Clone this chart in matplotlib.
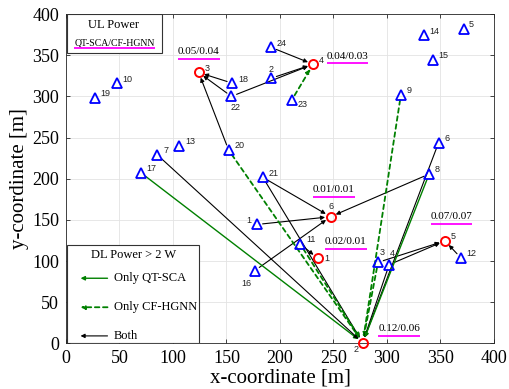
#!/usr/bin/env python
# -*- coding:utf-8 -*-

import matplotlib
matplotlib.use('Agg')
import matplotlib.pyplot as plt
from matplotlib.patches import Rectangle


# user positions (blue triangles), id -> (x, y) in metres
USER_IDS = list(range(1, 25))
USER_X = [178.6, 191.7, 291.6, 302.0, 371.6, 348.2, 85.5, 339.4, 313.0, 47.8, 219.0, 369.0,
          106.0, 334.7, 343.0, 176.4, 70.3, 155.5, 27.0, 152.0, 184.0, 154.6, 211.0, 191.7]
USER_Y = [144.5, 322.0, 98.5, 95.7, 381.7, 243.7, 228.8, 205.7, 302.0, 316.0, 120.6, 104.0,
          240.0, 374.0, 344.0, 88.4, 207.0, 316.0, 298.0, 234.8, 201.7, 300.0, 295.5, 359.5]

# access points (red circles)
AP_IDS = [1, 2, 3, 4, 5, 6]
AP_X = [235.4, 277.3, 124.0, 231.0, 354.2, 247.3]
AP_Y = [103.4, 1.0, 329.0, 339.0, 124.6, 153.9]

# UL power per AP, QT-SCA/CF-HGNN
UL_POWER = ['0.02/0.01', '0.12/0.06', '0.05/0.04', '0.04/0.03', '0.07/0.07', '0.01/0.01']

# (user, ap, kind)  kind: 'both', 'qt' (only QT-SCA), 'cf' (only CF-HGNN)
LINKS = [
    (18, 3, 'both'), (22, 3, 'both'), (20, 3, 'both'),
    (24, 4, 'both'), (2, 4, 'both'), (22, 4, 'both'), (23, 4, 'cf'),
    (21, 6, 'both'), (1, 6, 'both'), (8, 6, 'both'), (16, 6, 'both'),
    (11, 1, 'both'),
    (12, 5, 'both'), (3, 5, 'both'), (4, 5, 'both'),
    (17, 2, 'qt'), (7, 2, 'both'), (20, 2, 'cf'), (21, 2, 'both'), (11, 2, 'cf'),
    (9, 2, 'cf'), (3, 2, 'cf'), (4, 2, 'both'), (6, 2, 'both'), (8, 2, 'qt'),
]

GREEN = '#008000'
STYLES = {
    'both': dict(color='black', lw=0.8, linestyle='-'),
    'qt': dict(color=GREEN, lw=1.0, linestyle='-'),
    'cf': dict(color=GREEN, lw=1.3, linestyle=(0, (2.5, 2))),
}

# label offsets in points, default is upper right
USER_LABEL_OFF = {22: (3, -8, 'center'), 23: (4, -3, 'left'), 2: (0, 6, 'center'),
                  1: (-4, 3, 'right'), 16: (-6, -9, 'center'), 3: (3, 7, 'center'),
                  4: (2, 8, 'center')}
AP_LABEL_OFF = {6: (0, 7, 'center'), 1: (5, 0, 'left'), 2: (-5, -5, 'center')}
# text offset of the UL power label relative to its AP (data units)
UL_TEXT_OFF = {1: (26, 20), 2: (34, 17), 3: (0, 25), 4: (32, 10), 5: (6, 29), 6: (3, 33)}

SERIF = 'Liberation Serif'
SANS = 'Liberation Sans'


def draw_arrow(ax, start, end, kind, **kw):
    st = STYLES[kind]
    ax.annotate('', xy=end, xytext=start,
                arrowprops=dict(arrowstyle='-|>', color=st['color'], lw=st['lw'],
                                linestyle=st['linestyle'], mutation_scale=6,
                                shrinkA=kw.get('shrinkA', 4), shrinkB=kw.get('shrinkB', 4)),
                **{k: v for k, v in kw.items() if k not in ('shrinkA', 'shrinkB')})


def underlined(ax, x, y, s, size=8, width=19, transform=None):
    tr = transform if transform is not None else ax.transData
    ax.text(x, y, s, fontsize=size, family=SERIF, ha='center', va='center', transform=tr)


def main():
    fig = plt.figure(figsize=(5.1, 3.89), dpi=100)
    ax = fig.add_axes([0.1294, 0.117, 0.8392, 0.847])

    users = dict(zip(USER_IDS, zip(USER_X, USER_Y)))
    aps = dict(zip(AP_IDS, zip(AP_X, AP_Y)))

    for u, a, kind in LINKS:
        draw_arrow(ax, users[u], aps[a], kind)

    ax.plot(USER_X, USER_Y, '^', ms=7.5, mfc='none', mec='#0000ff', mew=1.3, zorder=5)
    ax.plot(AP_X, AP_Y, 'o', ms=6.5, mfc='none', mec='#ff0000', mew=1.4, zorder=5,
            clip_on=False)

    for uid, x, y in zip(USER_IDS, USER_X, USER_Y):
        dx, dy, ha = USER_LABEL_OFF.get(uid, (4, 3, 'left'))
        ax.annotate(str(uid), (x, y), xytext=(dx, dy), textcoords='offset points',
                    ha=ha, va='center', fontsize=6.5, family=SANS, color='#222222')
    for aid, x, y in zip(AP_IDS, AP_X, AP_Y):
        dx, dy, ha = AP_LABEL_OFF.get(aid, (4, 3, 'left'))
        ax.annotate(str(aid), (x, y), xytext=(dx, dy), textcoords='offset points',
                    ha=ha, va='center', fontsize=6.5, family=SANS, color='#222222')

    # UL power labels with magenta underline
    for aid, x, y, s in zip(AP_IDS, AP_X, AP_Y, UL_POWER):
        ox, oy = UL_TEXT_OFF[aid]
        tx, ty = x + ox, y + oy
        ax.text(tx, ty, s, fontsize=8, family=SERIF, ha='center', va='center', zorder=6)
        ax.plot([tx - 19.5, tx + 19.5], [ty - 9, ty - 9], color='#ff00ff', lw=1.3,
                solid_capstyle='butt', zorder=6)

    # UL power box
    ax.add_patch(Rectangle((0.003, 0.882), 0.221, 0.117, transform=ax.transAxes,
                           fc='white', ec='#333333', lw=0.8, zorder=7))
    ax.text(0.112, 0.967, 'UL Power', transform=ax.transAxes, fontsize=9, family=SERIF,
            ha='center', va='center', zorder=8)
    ax.text(0.113, 0.912, 'QT-SCA/CF-HGNN', transform=ax.transAxes, fontsize=7,
            family=SERIF, ha='center', va='center', zorder=8)
    ax.plot([0.019, 0.208], [0.897, 0.897], transform=ax.transAxes, color='#ff00ff',
            lw=1.3, zorder=8, solid_capstyle='butt')

    # DL legend box
    ax.add_patch(Rectangle((0.003, 0.002), 0.308, 0.297, transform=ax.transAxes,
                           fc='white', ec='#333333', lw=0.8, zorder=7))
    ax.text(0.158, 0.269, 'DL Power > 2 W', transform=ax.transAxes, fontsize=9,
            family=SERIF, ha='center', va='center', zorder=8)
    for ypos, kind, label in [(0.198, 'qt', 'Only QT-SCA'), (0.110, 'cf', 'Only CF-HGNN'),
                              (0.023, 'both', 'Both')]:
        draw_arrow(ax, (0.097, ypos), (0.034, ypos), kind, shrinkA=0, shrinkB=0,
                   xycoords='axes fraction', textcoords='axes fraction', zorder=8)
        ax.text(0.111, ypos, label, transform=ax.transAxes, fontsize=9, family=SERIF,
                ha='left', va='center', zorder=8)

    ax.set_xlim(0, 400)
    ax.set_ylim(0, 400)
    ax.set_xticks(range(0, 401, 50))
    ax.set_yticks(range(0, 401, 50))
    ax.grid(True, color='#e3e3e3', lw=0.6)
    ax.set_axisbelow(True)
    ax.tick_params(direction='in', length=3, width=0.6, top=True, right=True,
                   labelsize=13, colors='#262626', pad=5)
    for lab in ax.get_xticklabels() + ax.get_yticklabels():
        lab.set_family(SERIF)
        lab.set_color('black')
    for sp in ax.spines.values():
        sp.set_color('#262626')
        sp.set_linewidth(0.6)
    ax.set_xlabel('x-coordinate [m]', fontsize=15, family=SERIF, labelpad=1)
    ax.set_ylabel('y-coordinate [m]', fontsize=15, family=SERIF, labelpad=2)

    fig.savefig('out.png', dpi=100)


if __name__ == '__main__':
    main()
